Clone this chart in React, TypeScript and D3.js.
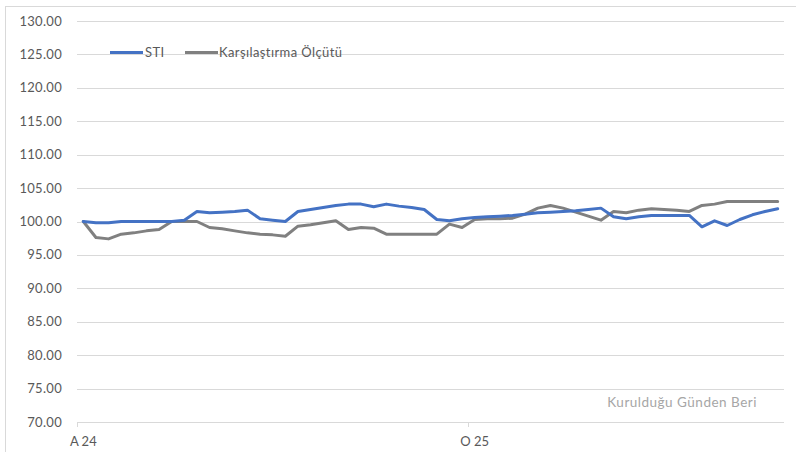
import React from "react";
import * as d3 from "d3";

const W = 796;
const H = 452;

const yTicks = [70, 75, 80, 85, 90, 95, 100, 105, 110, 115, 120, 125, 130];

const stiValues = [
  100.0, 99.8, 99.8, 100.0, 100.0, 100.0, 100.0, 100.0, 100.2, 101.5,
  101.3, 101.4, 101.5, 101.7, 100.4, 100.2, 100.0, 101.5, 101.8, 102.1,
  102.4, 102.6, 102.6, 102.2, 102.6, 102.3, 102.1, 101.8, 100.3, 100.1,
  100.4, 100.6, 100.7, 100.8, 100.9, 101.1, 101.3, 101.4, 101.5, 101.6,
  101.8, 102.0, 100.7, 100.4, 100.7, 100.9, 100.9, 100.9, 100.9, 99.2,
  100.1, 99.4, 100.3, 101.0, 101.5, 101.9,
];

const benchValues = [
  100.0, 97.6, 97.4, 98.1, 98.3, 98.6, 98.8, 100.0, 100.0, 100.0,
  99.1, 98.9, 98.6, 98.3, 98.1, 98.0, 97.8, 99.3, 99.5, 99.8,
  100.1, 98.8, 99.1, 99.0, 98.1, 98.1, 98.1, 98.1, 98.1, 99.6,
  99.1, 100.3, 100.4, 100.4, 100.5, 101.1, 102.0, 102.4, 102.0, 101.4,
  100.8, 100.2, 101.5, 101.3, 101.7, 101.9, 101.8, 101.7, 101.5, 102.4,
  102.6, 103.0, 103.0, 103.0, 103.0, 103.0,
];

const xLabels: Record<number, string> = { 0: "A 24", 31: "O 25" };
const tickEvery = 31;

const seriesNames = ["STI", "Karşılaştırma Ölçütü"];
const seriesColors = ["#4472C4", "#808080"];

const FONT = "Lato, 'Open Sans', sans-serif";

export default function App() {
  const left = 77;
  const right = 784;
  const top = 21;
  const bottom = 422;

  const cats = stiValues.map((_, i) => i);
  const x = d3.scaleBand<number>().domain(cats).range([left, right]).paddingInner(0).paddingOuter(0);
  const y = d3.scaleLinear().domain([70, 130]).range([bottom, top]);
  const cx = (i: number) => (x(i) as number) + x.bandwidth() / 2;

  const line = d3
    .line<number>()
    .x((_, i) => cx(i))
    .y((d) => y(d));

  const tickIdx = cats.filter((i) => i % tickEvery === 0);

  return (
    <svg
      width={W}
      height={H}
      style={{ position: "absolute", left: 0, top: 0, background: "#fff" }}
      fontFamily={FONT}
    >
      <rect x={5.5} y={6.5} width={900} height={600} fill="#fff" stroke="#d9d9d9" strokeWidth={1} />
      {yTicks.map((t) => (
        <g key={t}>
          {t !== 70 && (
            <line x1={left} x2={right} y1={Math.round(y(t)) + 0.5} y2={Math.round(y(t)) + 0.5} stroke="#d9d9d9" strokeWidth={1} />
          )}
          <text x={62} y={y(t)} dy="0.35em" textAnchor="end" fontSize={13} letterSpacing={0.3} fill="#595959">
            {t.toFixed(2)}
          </text>
        </g>
      ))}
      <line x1={left} x2={right} y1={bottom + 0.5} y2={bottom + 0.5} stroke="#d9d9d9" strokeWidth={1} />
      {tickIdx.map((i) => (
        <g key={i}>
          <line
            x1={Math.round(x(i) as number) + 0.5}
            x2={Math.round(x(i) as number) + 0.5}
            y1={bottom}
            y2={bottom + 5}
            stroke="#d9d9d9"
          />
          <text x={cx(i)} y={441} dy="0.35em" textAnchor="middle" fontSize={13} fill="#595959">
            {xLabels[i] ?? ""}
          </text>
        </g>
      ))}
      <path d={line(benchValues) || ""} fill="none" stroke={seriesColors[1]} strokeWidth={3} strokeLinejoin="round" strokeLinecap="round" />
      <path d={line(stiValues) || ""} fill="none" stroke={seriesColors[0]} strokeWidth={3} strokeLinejoin="round" strokeLinecap="round" />

      {/* legend */}
      <g>
        <line x1={110} x2={143} y1={52.5} y2={52.5} stroke={seriesColors[0]} strokeWidth={3} />
        <text x={145} y={52} dy="0.35em" fontSize={13} letterSpacing={0.4} fill="#595959">
          {seriesNames[0]}
        </text>
        <line x1={185} x2={218} y1={52.5} y2={52.5} stroke={seriesColors[1]} strokeWidth={3} />
        <text x={219} y={52} dy="0.35em" fontSize={13} letterSpacing={0.4} fill="#595959">
          {seriesNames[1]}
        </text>
      </g>

      <text x={757} y={402} dy="0.35em" textAnchor="end" fontSize={13.5} letterSpacing={0.5} fill="#a6a6a6">
        Kurulduğu Günden Beri
      </text>
    </svg>
  );
}
